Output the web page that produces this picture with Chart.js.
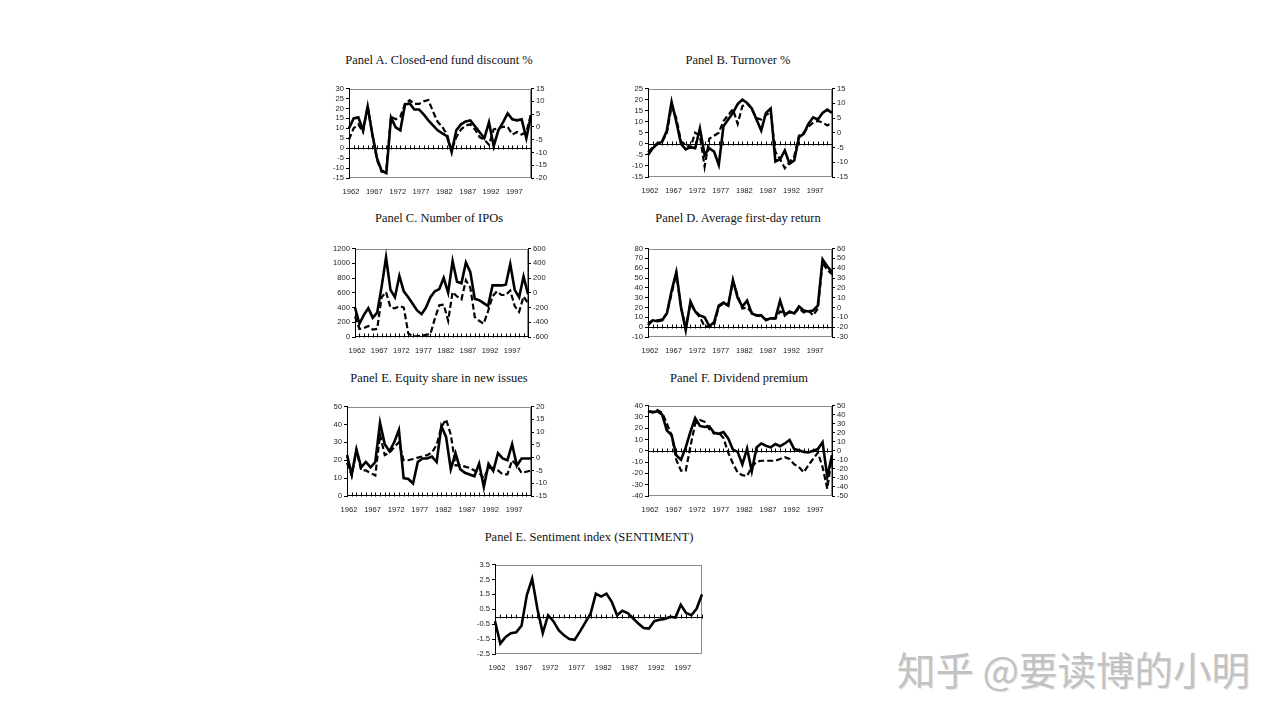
<!DOCTYPE html>
<html>
<head>
<meta charset="utf-8">
<script src="https://cdn.jsdelivr.net/npm/chart.js@4.4.0/dist/chart.umd.min.js"></script>
<style>
html,body{margin:0;padding:0;background:#fff;width:1280px;height:720px;overflow:hidden;}
canvas{position:absolute;}
.t{position:absolute;font-family:"Liberation Serif","Times New Roman",serif;font-size:12.5px;color:#111;white-space:nowrap;transform:translate(-50%,-50%);}
.wm{position:absolute;left:897px;top:668px;transform:translateY(-50%);font-family:"Noto Sans CJK SC",sans-serif;font-size:38.5px;color:#c2c2c2;white-space:nowrap;text-shadow:1px 1px 0 #e6e6e6;}
</style>
</head>
<body>
<div class="t" style="left:439px;top:60px;">Panel A. Closed-end fund discount %</div>
<div class="t" style="left:738px;top:60px;">Panel B. Turnover %</div>
<div class="t" style="left:439px;top:218px;">Panel C. Number of IPOs</div>
<div class="t" style="left:738px;top:218px;">Panel D. Average first-day return</div>
<div class="t" style="left:439px;top:378px;">Panel E. Equity share in new issues</div>
<div class="t" style="left:739px;top:378px;">Panel F. Dividend premium</div>
<div class="t" style="left:589px;top:537px;">Panel E. Sentiment index (SENTIMENT)</div>
<div class="wm">知乎 @要读博的小明</div>

<canvas id="cA"></canvas>
<canvas id="cB"></canvas>
<canvas id="cC"></canvas>
<canvas id="cD"></canvas>
<canvas id="cE"></canvas>
<canvas id="cF"></canvas>
<canvas id="cG"></canvas>

<script>
// ---------- categories ----------
const years = ['1962','1963','1964','1965','1966','1967','1968','1969','1970','1971',
               '1972','1973','1974','1975','1976','1977','1978','1979','1980','1981',
               '1982','1983','1984','1985','1986','1987','1988','1989','1990','1991',
               '1992','1993','1994','1995','1996','1997','1998','1999','2000','2001'];
const xTickLabels = ['1962','1967','1972','1977','1982','1987','1992','1997'];

// ---------- Panel A: closed-end fund discount ----------
const cefdRaw  = [10, 15, 15.5, 9, 21, 7, -5, -11.5, -12.5, 15.5, 10.5, 9, 22, 22.5, 19.5, 19.5, 17, 14, 11.5, 9,
                  7.5, 6, -2, 9, 12, 13.5, 14, 11, 8, 5, 13, 1, 9, 13, 17.5, 14.5, 14, 14.5, 5, 16.5];
const cefdOrth = [-5, -0.5, 1, -2, 8, -3, -13, -17.5, -17, 4, 3, 4, 9, 10.5, 9, 9, 10, 10.5, 6, 2,
                  0, -3, -9, -4, -1, 0.5, 1, -1, -4, -5, -7, -1, -0.5, 0, 0, -3, -2, -3, -2, 5];
const ticksA_L = [-15, -10, -5, 0, 5, 10, 15, 20, 25, 30];
const ticksA_R = [-20, -15, -10, -5, 0, 5, 10, 15];

// ---------- Panel B: turnover ----------
const turnRaw  = [-5, -2, 0, 1, 6, 19, 10, 0, -2.5, -1.5, -2, 7, -5, -2, -3.5, -9.5, 8, 11, 14, 18,
                  20, 18.5, 16, 11, 6, 14, 16, -8, -7, -3, -9, -7.5, 3, 4.5, 9, 12, 11, 14, 15.5, 14];
const turnOrth = [-6.5, -5, -3.5, -3, 0, 9, 5, -3, -4, -5, 0, -1, -11.5, -2, -1, 0, 4, 6, 8, 3,
                  9, 10, 8, 5, 4.5, 6, 7, -6.5, -9, -12, -10, -8, -1, 0, 2, 3.5, 4, 3.5, 2.5, 3.5];
const ticksB_L = [-15, -10, -5, 0, 5, 10, 15, 20, 25];
const ticksB_R = [-15, -10, -5, 0, 5, 10, 15];

// ---------- Panel C: number of IPOs ----------
const nipoRaw  = [400, 180, 300, 390, 260, 330, 680, 1080, 640, 540, 830, 620, 540, 450, 360, 310, 400, 540, 620, 650,
                  800, 600, 1030, 750, 730, 1010, 880, 520, 500, 460, 420, 700, 700, 700, 710, 990, 640, 540, 820, 580];
const nipoOrth = [-320, -490, -480, -450, -500, -490, -60, 10, -200, -210, -180, -200, -550, -590, -590, -580, -570, -560, -350, -170,
                  -160, -380, 10, -50, -90, 170, 70, -330, -380, -420, -250, -50, 20, -30, -30, 30, -180, -260, -50, -140];
const ticksC_L = [0, 200, 400, 600, 800, 1000, 1200];
const ticksC_R = [-600, -400, -200, 0, 200, 400, 600];

// ---------- Panel D: average first-day return ----------
const ripoRaw  = [2, 7, 6, 7, 14, 37, 56, 20, -3, 26, 16, 12, 10, 1, 5, 22, 25, 22, 48, 30,
                  21, 27, 14, 12, 12, 7, 9, 9, 27, 12, 16, 14, 21, 17, 16, 17, 22, 69, 62, 56];
const ripoOrth = [-16, -13, -13, -12, -6, 14, 35, 0, -20, 4, -4, -10, -19, -20, -18, 1, 4, 2, 27, 12,
                  -1, 0, -5, -8, -9, -12, -11, -11, -4, -6, -5, -6, -1, -5, -3, -8, -1, 46, 38, 34];
const ticksD_L = [-10, 0, 10, 20, 30, 40, 50, 60, 70, 80];
const ticksD_R = [-30, -20, -10, 0, 10, 20, 30, 40, 50, 60];

// ---------- Panel E: equity share in new issues ----------
const sRaw  = [23, 12, 26, 16, 19, 16, 19, 41, 29, 25, 30, 37, 10, 9.5, 7, 19, 21, 21, 22, 19,
               39, 33, 15, 24, 15, 13, 12, 11, 18, 5, 18, 14, 24, 21, 20, 29, 17, 21, 21, 21];
const sOrth = [-2, -7, 3, -5, -5, -6, -7, 9, 1, 2, 4, 6, -1, -1, -0.5, 0, 0.5, 1, 2, 5,
               12, 15, 9, -3, -3, -3.5, -4, -5, -6, -8, -4, -4, -5, -6.5, -6.5, -1, -3, -6, -5.5, -5];
const ticksE_L = [0, 10, 20, 30, 40, 50];
const ticksE_R = [-15, -10, -5, 0, 5, 10, 15, 20];

// ---------- Panel F: dividend premium ----------
const pdndRaw  = [35, 34, 35, 32, 18, 14, -4, -8, 3, 17, 29, 22, 21, 21.5, 16, 15, 16.5, 11, 1, -1,
                  -12, 2, -18, 3, 6.5, 4.5, 3, 6, 4, 6.5, 9.5, 1.5, 0.5, -1, -1.5, 0, 1.5, 7.5, -23, -4];
const pdndOrth = [44, 43, 45, 42, 30, 17, -10, -22, -22, 5, 30, 34, 32, 24, 19, 20, 14, -2, -14, -24,
                  -27, -28, -18, -12, -11, -11, -11, -11, -9, -7, -9, -15, -18, -24, -16, -9, -2, -18, -42, -5];
const ticksF_L = [-40, -30, -20, -10, 0, 10, 20, 30, 40];
const ticksF_R = [-50, -40, -30, -20, -10, 0, 10, 20, 30, 40, 50];

// ---------- Sentiment index ----------
const sentiment = [-0.3, -1.8, -1.35, -1.1, -1.05, -0.6, 1.45, 2.55, 0.5, -1.1, 0.1, -0.3, -0.9, -1.25, -1.5, -1.55, -1.0, -0.4, 0.2, 1.55,
                   1.35, 1.55, 1.0, 0.1, 0.4, 0.25, -0.1, -0.45, -0.75, -0.8, -0.3, -0.2, -0.15, 0.0, -0.05, 0.8, 0.25, 0.1, 0.55, 1.5];
const ticksG_L = [-2.5, -1.5, -0.5, 0.5, 1.5, 2.5, 3.5];

// ---------- drawing helpers ----------
const tickFont = {family: '"Liberation Sans", Arial, sans-serif', size: 7.6};

const framePlugin = {
  id: 'frameAndZero',
  beforeDraw(chart) {
    const a = chart.chartArea, ctx = chart.ctx;
    ctx.save();
    ctx.strokeStyle = '#8a8a8a';
    ctx.lineWidth = 1;
    ctx.strokeRect(Math.round(a.left) + 0.5, Math.round(a.top) + 0.5,
                   Math.round(a.right - a.left) - 1, Math.round(a.bottom - a.top) - 1);
    ctx.restore();
  },
  beforeDatasetsDraw(chart) {
    const a = chart.chartArea, ctx = chart.ctx;
    const yS = chart.scales.yL, xS = chart.scales.x;
    let y0 = Math.round(yS.getPixelForValue(0));
    if (y0 >= Math.round(a.bottom)) y0 = Math.round(a.bottom) - 1;
    y0 += 0.5;
    ctx.save();
    ctx.strokeStyle = '#000';
    ctx.lineWidth = 1;
    ctx.beginPath();
    ctx.moveTo(a.left, y0);
    ctx.lineTo(a.right, y0);
    for (let i = 0; i < chart.data.labels.length; i++) {
      const x = Math.round(xS.getPixelForValue(i)) + 0.5;
      ctx.moveTo(x, y0 - 3);
      ctx.lineTo(x, y0 + 1);
    }
    ctx.stroke();
    ctx.restore();
  }
};

function yAxis(ticks, pos) {
  return {
    type: 'linear',
    position: pos,
    min: ticks[0],
    max: ticks[ticks.length - 1],
    afterBuildTicks: s => { s.ticks = ticks.map(v => ({value: v})); },
    afterFit: s => { s.width = 30; },
    grid: {drawOnChartArea: false, drawTicks: true, tickLength: 3, color: '#000', lineWidth: 1},
    border: {display: true, color: '#000', width: 1},
    ticks: {autoSkip: false, font: tickFont, color: '#222', padding: 2, callback: v => String(v)}
  };
}

function makePanel(id, L, T, R, B, solid, dashed, lTicks, rTicks) {
  const W = R - L, H = B - T;
  const padR = rTicks ? 0 : 8;
  const cw = W + 30 + (rTicks ? 30 : padR);
  const ch = H + 6 + 20;
  const cv = document.getElementById(id);
  cv.width = cw; cv.height = ch;
  cv.style.left = (L - 30) + 'px';
  cv.style.top = (T - 6) + 'px';
  cv.style.width = cw + 'px';
  cv.style.height = ch + 'px';

  const datasets = [{
    label: 'raw', data: solid, yAxisID: 'yL',
    borderColor: '#000', borderWidth: 2.6, pointRadius: 0, tension: 0, fill: false
  }];
  const scales = {
    x: {
      type: 'category', offset: false,
      afterFit: s => { s.height = 20; },
      grid: {display: false, drawTicks: false},
      border: {display: false},
      ticks: {
        autoSkip: false, maxRotation: 0, minRotation: 0, padding: 9, labelOffset: 2,
        font: tickFont, color: '#222',
        callback: (val, idx) => xTickLabels.includes(years[idx]) ? years[idx] : ''
      }
    },
    yL: yAxis(lTicks, 'left')
  };
  if (dashed) {
    datasets.push({
      label: 'orth', data: dashed, yAxisID: 'yR',
      borderColor: '#000', borderWidth: 2.2, borderDash: [6, 3], pointRadius: 0, tension: 0, fill: false
    });
    scales.yR = yAxis(rTicks, 'right');
  }
  return new Chart(cv, {
    type: 'line',
    data: {labels: years, datasets},
    options: {
      responsive: false,
      animation: false,
      layout: {padding: {top: 6, left: 0, right: padR, bottom: 0}},
      plugins: {legend: {display: false}, tooltip: {enabled: false}, title: {display: false}},
      scales
    },
    plugins: [framePlugin]
  });
}

makePanel('cA', 349, 88, 531, 178, cefdRaw, cefdOrth, ticksA_L, ticksA_R);
makePanel('cB', 648, 88, 832, 177, turnRaw, turnOrth, ticksB_L, ticksB_R);
makePanel('cC', 355, 248, 528, 337, nipoRaw, nipoOrth, ticksC_L, ticksC_R);
makePanel('cD', 648, 248, 832, 337, ripoRaw, ripoOrth, ticksD_L, ticksD_R);
makePanel('cE', 347, 406, 531, 496, sRaw, sOrth, ticksE_L, ticksE_R);
makePanel('cF', 648, 405, 832, 496, pdndRaw, pdndOrth, ticksF_L, ticksF_R);
makePanel('cG', 495, 564, 703, 654, sentiment, null, ticksG_L, null);
</script>
</body>
</html>
